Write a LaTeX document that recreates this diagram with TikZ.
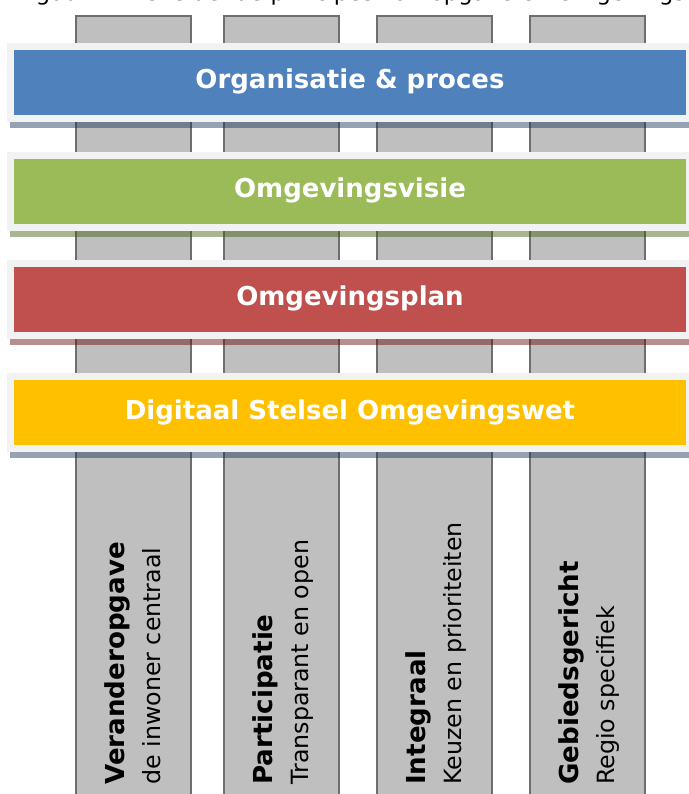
\documentclass[tikz,border=0pt]{standalone}
\usepackage{fontspec}
\setmainfont{DejaVu Sans}
\definecolor{pillarfill}{HTML}{BFBFBF}
\definecolor{pillaredge}{HTML}{6E6E6E}
\definecolor{framegray}{HTML}{F2F2F2}
\definecolor{bandblue}{HTML}{4F81BD}
\definecolor{bandgreen}{HTML}{9BBB59}
\definecolor{bandred}{HTML}{C0504D}
\definecolor{bandyellow}{HTML}{FFC000}
\definecolor{shadeblue}{RGB}{17,48,88}
\definecolor{shadegreen}{RGB}{62,91,13}
\definecolor{shadered}{RGB}{97,4,4}
\tikzset{
  pillar/.style={fill=pillarfill, draw=pillaredge, line width=1.5pt},
  bandframe/.style={fill=framegray},
  bandshadow/.style={opacity=0.45},
  bandtext/.style={text=white, anchor=base, inner sep=0pt,
    font=\fontsize{19.5}{23}\selectfont\bfseries},
  pillarhead/.style={rotate=90, anchor=base west, inner sep=0pt,
    font=\fontsize{19.6}{23}\selectfont\bfseries},
  pillarsub/.style={rotate=90, anchor=base west, inner sep=0pt,
    font=\fontsize{17.8}{21}\selectfont},
}
\begin{document}
\begin{tikzpicture}[x=0.75pt, y=-0.75pt]
\useasboundingbox (0,0) rectangle (689,794);
\clip (0,0) rectangle (689,794);

% caption line, cut off at the top edge
\node[anchor=base west, inner sep=0pt, font=\fontsize{17}{20}\selectfont]
  (caption) at (18,0) {Figuur 1: De leidende principes van opgave en Omgevingswet};

% four pillars
\foreach \px/\pn in {76/p1, 224/p2, 377/p3, 530/p4}
  \draw[pillar] (\px,16) rectangle (\px+115,820) coordinate (\pn);

% horizontal bands: frame, inner colour, shadow underneath
\foreach \top/\col/\shade/\bn in {43/bandblue/shadeblue/b1,
                                   152/bandgreen/shadegreen/b2,
                                   260/bandred/shadered/b3,
                                   373/bandyellow/shadeblue/b4} {
  \fill[bandframe] (7,\top) rectangle (700,\top+79);
  \fill[\col] (14,\top+7) rectangle (686,\top+72);
  \fill[\shade, bandshadow] (10,\top+79) rectangle (700,\top+85);
}

\node[bandtext] (org)  at (350,88)  {Organisatie \& proces};
\node[bandtext] (visie) at (350,197) {Omgevingsvisie};
\node[bandtext] (plan) at (350,305) {Omgevingsplan};
\node[bandtext] (dso)  at (350,419) {Digitaal Stelsel Omgevingswet};

% pillar labels, reading upwards
\node[pillarhead] (h1) at (124,785) {Veranderopgave};
\node[pillarsub]  (s1) at (160,785) {de inwoner centraal};
\node[pillarhead] (h2) at (272,785) {Participatie};
\node[pillarsub]  (s2) at (308,785) {Transparant en open};
\node[pillarhead] (h3) at (425,785) {Integraal};
\node[pillarsub]  (s3) at (461,785) {Keuzen en prioriteiten};
\node[pillarhead] (h4) at (578,785) {Gebiedsgericht};
\node[pillarsub]  (s4) at (614,785) {Regio specifiek};
\end{tikzpicture}
\end{document}
